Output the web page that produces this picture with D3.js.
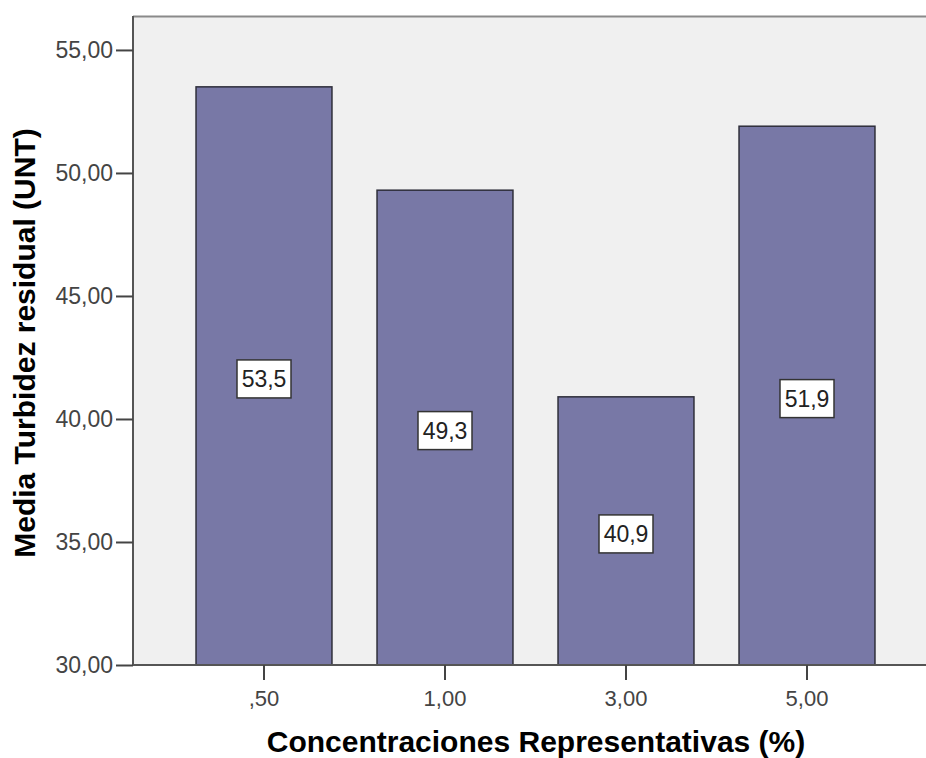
<!DOCTYPE html>
<html><head><meta charset="utf-8">
<script src="https://cdn.jsdelivr.net/npm/d3@7/dist/d3.min.js"></script>
<style>body{margin:0;background:#fff}svg{display:block}</style>
</head><body>
<svg id="c" width="926" height="758"></svg>
<script>
const categories = [",50", "1,00", "3,00", "5,00"];
const values = [53.5, 49.3, 40.9, 51.9];
const valueLabels = ["53,5", "49,3", "40,9", "51,9"];
const yTicks = [30, 35, 40, 45, 50, 55];
const yTickLabels = ["30,00", "35,00", "40,00", "45,00", "50,00", "55,00"];

const FONT = "Liberation Sans, Arial, sans-serif";
const svg = d3.select("#c");
const plot = {left: 133, top: 16, right: 926, bottom: 665};
const y = d3.scaleLinear().domain([30, 56.38]).range([plot.bottom, plot.top]);
const x = d3.scaleBand().domain(categories).range([173.5, 897.5]).paddingInner(0.249).paddingOuter(0.1245);

svg.append("rect").attr("x", plot.left).attr("y", plot.top)
  .attr("width", plot.right - plot.left).attr("height", plot.bottom - plot.top)
  .attr("fill", "#f0f0f0");
svg.append("line").attr("x1", plot.left).attr("x2", plot.right).attr("y1", plot.top + 0.5).attr("y2", plot.top + 0.5)
  .attr("stroke", "#8a8a8a").attr("stroke-width", 2);

// bars
svg.selectAll("rect.bar").data(values).enter().append("rect").attr("class", "bar")
  .attr("x", (d, i) => x(categories[i]))
  .attr("y", d => y(d))
  .attr("width", x.bandwidth())
  .attr("height", d => y(30) - y(d))
  .attr("fill", "#7878a6").attr("stroke", "#2e2e3a").attr("stroke-width", 1.5);

// value labels
const lg = svg.selectAll("g.lab").data(values).enter().append("g").attr("class", "lab")
  .attr("transform", (d, i) => `translate(${x(categories[i]) + x.bandwidth() / 2},${(y(d) + y(30)) / 2 + 3})`);
lg.append("rect").attr("x", -27).attr("y", -19).attr("width", 54).attr("height", 38)
  .attr("fill", "#fff").attr("stroke", "#333").attr("stroke-width", 1.5);
lg.append("text").text((d, i) => valueLabels[i]).attr("text-anchor", "middle").attr("y", 8)
  .style("font-family", FONT).style("font-size", "23px").attr("fill", "#222");

// y axis
const yAxis = d3.axisLeft(y).tickValues(yTicks).tickFormat((d, i) => yTickLabels[i]).tickSize(17).tickPadding(3);
const ya = svg.append("g").attr("transform", `translate(${plot.left},0)`).call(yAxis);
ya.select(".domain").attr("d", `M0,${plot.top}V${plot.bottom}`).attr("stroke", "#555").attr("stroke-width", 2);
ya.selectAll(".tick line").attr("stroke", "#444").attr("stroke-width", 2);
ya.selectAll(".tick text").style("font-family", FONT).style("font-size", "23px").attr("fill", "#444");

// x axis
const xAxis = d3.axisBottom(x).tickSize(15).tickPadding(6);
const xa = svg.append("g").attr("transform", `translate(0,${plot.bottom})`).call(xAxis);
xa.select(".domain").attr("d", `M${plot.left},0H${plot.right}`).attr("stroke", "#555").attr("stroke-width", 2);
xa.selectAll(".tick line").attr("stroke", "#444").attr("stroke-width", 2);
xa.selectAll(".tick text").attr("dy", null).attr("y", 41).style("font-family", FONT).style("font-size", "22px").attr("fill", "#444");

// titles
svg.append("text").text("Concentraciones Representativas (%)")
  .attr("x", 536).attr("y", 752).attr("text-anchor", "middle")
  .style("font-family", FONT).style("font-weight", "bold").style("font-size", "30px").attr("fill", "#000");
svg.append("text").text("Media Turbidez residual (UNT)")
  .attr("transform", "translate(35,343) rotate(-90)").attr("text-anchor", "middle")
  .style("font-family", FONT).style("font-weight", "bold").style("font-size", "30px").attr("fill", "#000");
</script>
</body></html>
